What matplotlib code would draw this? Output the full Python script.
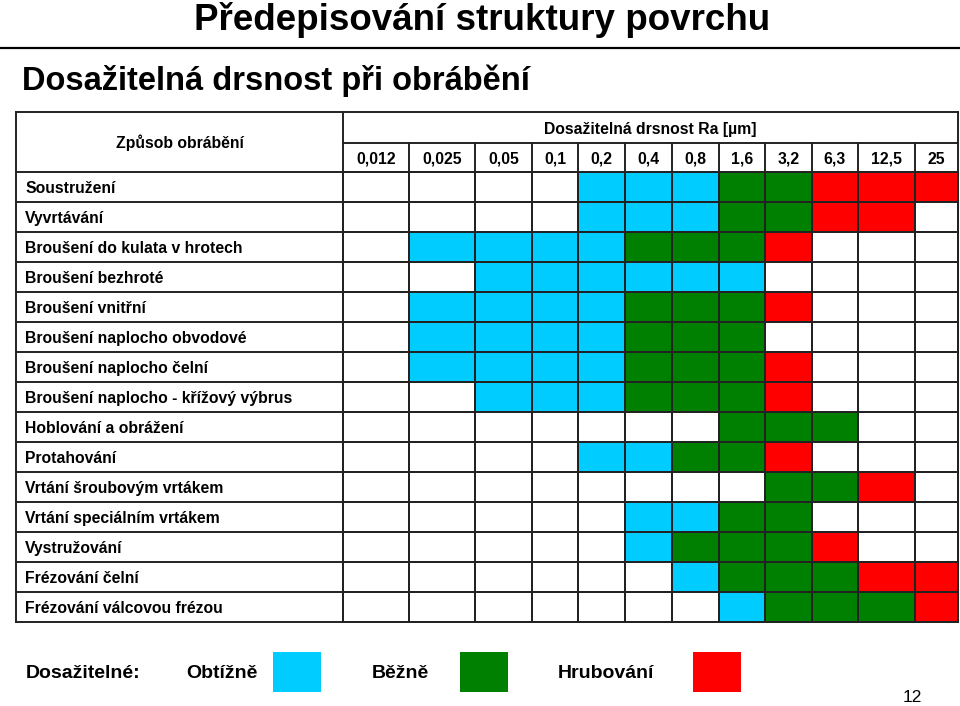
import numpy as np
import matplotlib
matplotlib.use("Agg")
import matplotlib.pyplot as plt
from matplotlib.colors import ListedColormap

# data
methods = [
    "Soustružení",
    "Vyvrtávání",
    "Broušení do kulata v hrotech",
    "Broušení bezhroté",
    "Broušení vnitřní",
    "Broušení naplocho obvodové",
    "Broušení naplocho čelní",
    "Broušení naplocho - křížový výbrus",
    "Hoblování a obrážení",
    "Protahování",
    "Vrtání šroubovým vrtákem",
    "Vrtání speciálním vrtákem",
    "Vystružování",
    "Frézování čelní",
    "Frézování válcovou frézou",
]
ra_values = ["0,012", "0,025", "0,05", "0,1", "0,2", "0,4", "0,8", "1,6", "3,2", "6,3", "12,5", "25"]
# 0 = nelze, 1 = obtížně, 2 = běžně, 3 = hrubování
grid = [
    [0, 0, 0, 0, 1, 1, 1, 2, 2, 3, 3, 3],
    [0, 0, 0, 0, 1, 1, 1, 2, 2, 3, 3, 0],
    [0, 1, 1, 1, 1, 2, 2, 2, 3, 0, 0, 0],
    [0, 0, 1, 1, 1, 1, 1, 1, 0, 0, 0, 0],
    [0, 1, 1, 1, 1, 2, 2, 2, 3, 0, 0, 0],
    [0, 1, 1, 1, 1, 2, 2, 2, 0, 0, 0, 0],
    [0, 1, 1, 1, 1, 2, 2, 2, 3, 0, 0, 0],
    [0, 0, 1, 1, 1, 2, 2, 2, 3, 0, 0, 0],
    [0, 0, 0, 0, 0, 0, 0, 2, 2, 2, 0, 0],
    [0, 0, 0, 0, 1, 1, 2, 2, 3, 0, 0, 0],
    [0, 0, 0, 0, 0, 0, 0, 0, 2, 2, 3, 0],
    [0, 0, 0, 0, 0, 1, 1, 2, 2, 0, 0, 0],
    [0, 0, 0, 0, 0, 1, 2, 2, 2, 3, 0, 0],
    [0, 0, 0, 0, 0, 0, 1, 2, 2, 2, 3, 3],
    [0, 0, 0, 0, 0, 0, 0, 1, 2, 2, 2, 3],
]
legend_labels = ["Obtížně", "Běžně", "Hrubování"]

colors = ["white", "#00CCFF", "#008000", "#FF0000"]

# layout in pixels
col_edges = np.array([343, 409, 475, 532, 578, 625, 672, 719, 765, 812, 858, 915, 958])
row_top = 172
row_h = 30
row_edges = row_top + row_h * np.arange(len(methods) + 1)
left = 16
hdr_top = 112
hdr_mid = 143

sans = ["Liberation Sans", "DejaVu Sans"]

fig = plt.figure(figsize=(9.6, 7.06), dpi=100)
ax = fig.add_axes([0, 0, 1, 1])
ax.set_xlim(0, 960)
ax.set_ylim(706, 0)
ax.axis("off")

# titles
ax.text(482, 30, "Předepisování struktury povrchu", ha="center", va="baseline",
        fontsize=26.5, fontweight="bold", family=sans)
ax.plot([0, 960], [48, 48], color="black", lw=1.6)
ax.text(22, 90, "Dosažitelná drsnost při obrábění", ha="left", va="baseline",
        fontsize=23.5, fontweight="bold", family=sans)

# cells
cmap = ListedColormap(colors)
ax.pcolormesh(col_edges, row_edges, np.array(grid), cmap=cmap, vmin=-0.5, vmax=3.5,
              edgecolors="#222222", linewidth=1.2)

# grid lines for left column and header
lw = 1.4
lc = "#222222"
for y in row_edges:
    ax.plot([left, 958], [y, y], color=lc, lw=lw)
ax.plot([left, 958], [hdr_top, hdr_top], color=lc, lw=lw)
ax.plot([343, 958], [hdr_mid, hdr_mid], color=lc, lw=lw)
ax.plot([left, left], [hdr_top, row_edges[-1]], color=lc, lw=lw)
ax.plot([958, 958], [hdr_top, row_edges[-1]], color=lc, lw=lw)
ax.plot([343, 343], [hdr_top, row_edges[-1]], color=lc, lw=lw)
for x in col_edges[1:-1]:
    ax.plot([x, x], [hdr_mid, row_top], color=lc, lw=lw)

# header text
fs = 11.3
ax.text((left + 343) / 2, hdr_top + 36, "Způsob obrábění", ha="center", va="baseline",
        fontsize=fs, fontweight="bold", family=sans)
ax.text((343 + 958) / 2, hdr_top + 22, "Dosažitelná drsnost Ra [µm]",
        ha="center", va="baseline", fontsize=fs, fontweight="bold", family=sans)
for i, lab in enumerate(ra_values):
    ax.text((col_edges[i] + col_edges[i + 1]) / 2, hdr_mid + 21, lab,
            ha="center", va="baseline", fontsize=fs, fontweight="bold", family=sans)
for j, m in enumerate(methods):
    ax.text(25, row_edges[j] + 21, m, ha="left", va="baseline",
            fontsize=fs, fontweight="bold", family=sans)

# legend
ax.text(26, 678, "Dosažitelné:", ha="left", va="baseline", fontsize=14,
        fontweight="bold", family=sans)
leg_text_x = [186, 372, 558]
leg_box_x = [273, 460, 693]
for k, lab in enumerate(legend_labels):
    ax.text(leg_text_x[k], 678, lab, ha="left", va="baseline", fontsize=14,
            fontweight="bold", family=sans)
    ax.add_patch(plt.Rectangle((leg_box_x[k], 652), 48, 40, facecolor=colors[k + 1],
                               edgecolor="none"))

ax.text(912, 702, "12", ha="center", va="baseline", fontsize=12.5, family=sans)

fig.savefig("out.png", dpi=100)
